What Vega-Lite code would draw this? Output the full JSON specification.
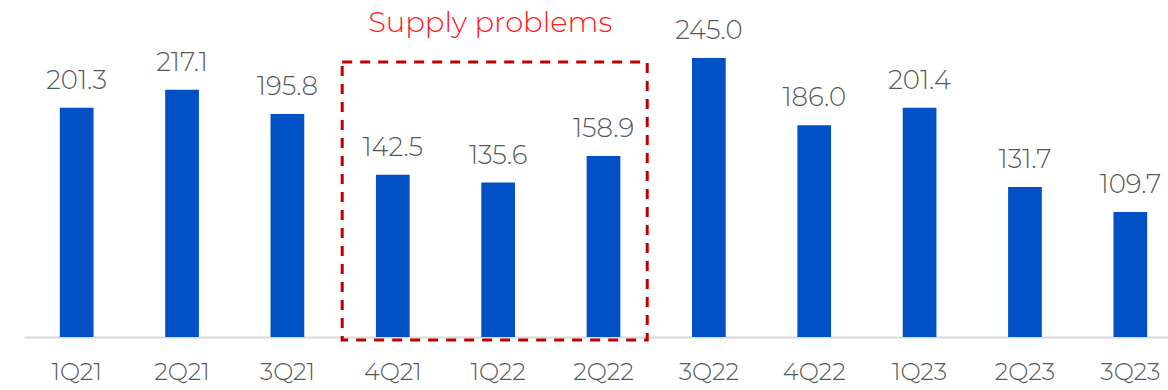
{
  "$schema": "https://vega.github.io/schema/vega-lite/v6.json",
  "width": 1159,
  "height": 337,
  "autosize": {"type": "none"},
  "padding": {"left": 24, "top": 0, "right": 0, "bottom": 53},
  "config": {"view": {"stroke": null}, "font": "Montserrat, Open Sans, sans-serif"},
  "datasets": {
    "sales": [
      {"q": "1Q21", "v": 201.3},
      {"q": "2Q21", "v": 217.1},
      {"q": "3Q21", "v": 195.8},
      {"q": "4Q21", "v": 142.5},
      {"q": "1Q22", "v": 135.6},
      {"q": "2Q22", "v": 158.9},
      {"q": "3Q22", "v": 245.0},
      {"q": "4Q22", "v": 186.0},
      {"q": "1Q23", "v": 201.4},
      {"q": "2Q23", "v": 131.7},
      {"q": "3Q23", "v": 109.7}
    ],
    "box": [{"x1": 3.02, "x2": 5.915, "y1": 241.5, "y2": -2.6}],
    "note": [{"x": 4.425, "y": 268, "t": "Supply problems"}]
  },
  "layer": [
    {
      "data": {"name": "sales"},
      "mark": {"type": "bar", "color": "#0050C6"},
      "encoding": {
        "x": {
          "field": "q", "type": "nominal", "sort": null,
          "scale": {"paddingInner": 0.68, "paddingOuter": 0.34},
          "axis": {"title": null, "labelAngle": 0, "labelFontSize": 24, "labelColor": "#595959", "labelFontWeight": 300, "ticks": false, "domainColor": "#D9D9D9", "domainWidth": 2, "labelPadding": 23, "grid": false}
        },
        "y": {"field": "v", "type": "quantitative", "scale": {"domain": [0, 296], "nice": false}, "axis": null}
      }
    },
    {
      "data": {"name": "sales"},
      "mark": {"type": "text", "baseline": "alphabetic", "dy": -19, "fontSize": 26, "fontWeight": 300, "color": "#595959"},
      "encoding": {
        "x": {"field": "q", "type": "nominal", "sort": null, "scale": {"paddingInner": 0.68, "paddingOuter": 0.34}, "axis": null},
        "y": {"field": "v", "type": "quantitative"},
        "text": {"field": "v", "type": "quantitative", "format": ".1f"}
      }
    },
    {
      "data": {"name": "box"},
      "mark": {"type": "rect", "fill": null, "filled": false, "stroke": "#C00000", "strokeWidth": 3, "strokeDash": [10, 8]},
      "encoding": {
        "x": {"field": "x1", "type": "quantitative", "scale": {"domain": [0, 11], "nice": false, "zero": false}, "axis": null},
        "x2": {"field": "x2"},
        "y": {"field": "y1", "type": "quantitative"},
        "y2": {"field": "y2"}
      }
    },
    {
      "data": {"name": "note"},
      "mark": {"type": "text", "baseline": "alphabetic", "fontSize": 29, "fontWeight": 300, "color": "#FF1A1A"},
      "encoding": {
        "x": {"field": "x", "type": "quantitative", "scale": {"domain": [0, 11], "nice": false, "zero": false}, "axis": null},
        "y": {"field": "y", "type": "quantitative"},
        "text": {"field": "t"}
      }
    }
  ],
  "resolve": {"scale": {"x": "independent"}}
}
